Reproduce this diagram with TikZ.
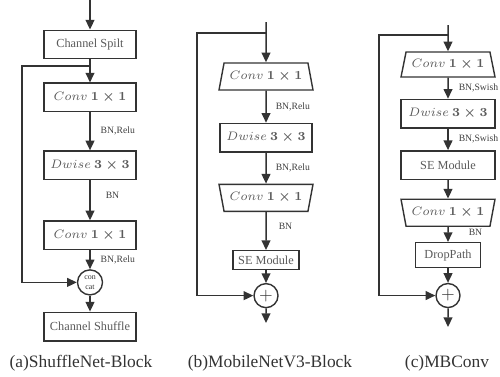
\documentclass[tikz,border=0pt]{standalone}
\usepackage{amsmath}
\usepackage[no-math]{fontspec}
\setmainfont{Liberation Serif}
\usetikzlibrary{shapes.geometric, arrows.meta, positioning}
\definecolor{linegray}{HTML}{333333}
\definecolor{textgray}{HTML}{5A5A5A}
\tikzstyle{block} = [rectangle, minimum width=1.84cm, minimum height=0.57cm, inner sep=1pt, text centered, draw=linegray, line width=0.8pt, text=textgray, font=\fontsize{7}{8}\selectfont]
\tikzstyle{expand} = [trapezium, trapezium left angle=72, trapezium right angle=72, trapezium stretches=true, minimum width=1.88cm, minimum height=0.54cm, inner sep=1pt, text centered, draw=linegray, line width=0.8pt, text=textgray, font=\fontsize{7}{8}\selectfont]
\tikzstyle{reduce} = [expand, shape border rotate=180]
\tikzstyle{merge} = [circle, minimum size=0.48cm, inner sep=0pt, draw=linegray, line width=0.8pt, text=linegray, align=center]
\tikzstyle{arrow} = [line width=0.85pt, draw=linegray, -{Triangle[length=5.5pt,width=5pt]}]
\tikzstyle{lbl} = [anchor=west, inner sep=0pt, xshift=0.2cm, font=\fontsize{5.5}{6}\selectfont, text=black!75]
\tikzstyle{caption} = [font=\fontsize{9.9}{11}\selectfont, text=linegray]

\begin{document}
\begin{tikzpicture}
\useasboundingbox (0,0) rectangle (10,-7.52);

% (a) ShuffleNet block
\coordinate (ain) at (1.8,0);
\coordinate (abr) at (1.8,-1.32);
\coordinate (aleft) at (0.44,-1.32);
\node (split) [block] at (1.8,-0.89) {Channel Spilt};
\node (aconv1) [block, below=0.46cm of split] {$Conv$ $\boldsymbol{1\times 1}$};
\node (adw) [block, below=0.76cm of aconv1] {$Dwise$ $\boldsymbol{3\times 3}$};
\node (aconv2) [block, below=0.8cm of adw] {$Conv$ $\boldsymbol{1\times 1}$};
\node (cat) [merge, minimum size=0.5cm, below=0.38cm of aconv2, font=\fontsize{4.5}{5.5}\selectfont] {con\\cat};
\node (shuffle) [block, below=0.32cm of cat] {Channel Shuffle};

\draw [arrow] (ain) -- (split);
\draw [arrow] (split) -- (aconv1);
\draw [arrow] (aconv1) -- node[lbl] {BN,Relu} (adw);
\draw [arrow] (adw) -- node[lbl, xshift=0.1cm, yshift=0.1cm] {BN} (aconv2);
\draw [arrow] (aconv2) -- node[lbl] {BN,Relu} (cat);
\draw [arrow] (cat) -- (shuffle);
\draw [arrow] (abr) -- (aleft) |- (cat);

% (b) MobileNetV3 block
\coordinate (bin) at (5.32,-0.44);
\coordinate (bbr) at (5.32,-0.66);
\coordinate (bleft) at (3.94,-0.66);
\coordinate (bout) at (5.32,-6.46);
\node (bexp) [expand] at (5.32,-1.53) {$Conv$ $\boldsymbol{1\times 1}$};
\node (bdw) [block, below=0.64cm of bexp] {$Dwise$ $\boldsymbol{3\times 3}$};
\node (bred) [reduce, below=0.62cm of bdw] {$Conv$ $\boldsymbol{1\times 1}$};
\node (bse) [block, minimum width=1.32cm, minimum height=0.38cm, below=0.76cm of bred] {SE Module};
\node (badd) [merge, below=0.25cm of bse, font=\fontsize{10}{10}\selectfont] {$+$};

\draw [arrow] (bin) -- (bexp);
\draw [arrow] (bexp) -- node[lbl, xshift=-0.02cm] {BN,Relu} (bdw);
\draw [arrow] (bdw) -- node[lbl, xshift=-0.02cm] {BN,Relu} (bred);
\draw [arrow] (bred) -- node[lbl, xshift=0.04cm, yshift=0.1cm] {BN} (bse);
\draw [arrow] (bse) -- (badd);
\draw [arrow] (badd) -- (bout);
\draw [arrow] (bbr) -- (bleft) |- (badd);

% (c) MBConv
\coordinate (cin) at (8.96,-0.5);
\coordinate (cbr) at (8.96,-0.7);
\coordinate (cleft) at (7.58,-0.7);
\coordinate (cout) at (8.96,-6.54);
\node (cexp) [expand, minimum height=0.5cm] at (8.96,-1.29) {$Conv$ $\boldsymbol{1\times 1}$};
\node (cdw) [block, minimum width=1.88cm, below=0.42cm of cexp] {$Dwise$ $\boldsymbol{3\times 3}$};
\node (cse) [block, minimum width=1.88cm, below=0.43cm of cdw] {SE Module};
\node (cred) [reduce, below=0.37cm of cse] {$Conv$ $\boldsymbol{1\times 1}$};
\node (cdrop) [block, minimum width=1.3cm, minimum height=0.5cm, below=0.3cm of cred] {DropPath};
\node (cadd) [merge, below=0.29cm of cdrop, font=\fontsize{10}{10}\selectfont] {$+$};

\draw [arrow] (cin) -- (cexp);
\draw [arrow] (cexp) -- node[lbl] {BN,Swish} (cdw);
\draw [arrow] (cdw) -- node[lbl] {BN,Swish} (cse);
\draw [arrow] (cse) -- (cred);
\draw [arrow] (cred) -- node[lbl, xshift=0.2cm, yshift=0.05cm] {BN} (cdrop);
\draw [arrow] (cdrop) -- (cadd);
\draw [arrow] (cadd) -- (cout);
\draw [arrow] (cbr) -- (cleft) |- (cadd);

% captions
\node (capa) [caption] at (1.62,-7.26) {(a)ShuffleNet-Block};
\node (capb) [caption] at (5.40,-7.26) {(b)MobileNetV3-Block};
\node (capc) [caption] at (8.94,-7.26) {(c)MBConv};
\end{tikzpicture}
\end{document}
